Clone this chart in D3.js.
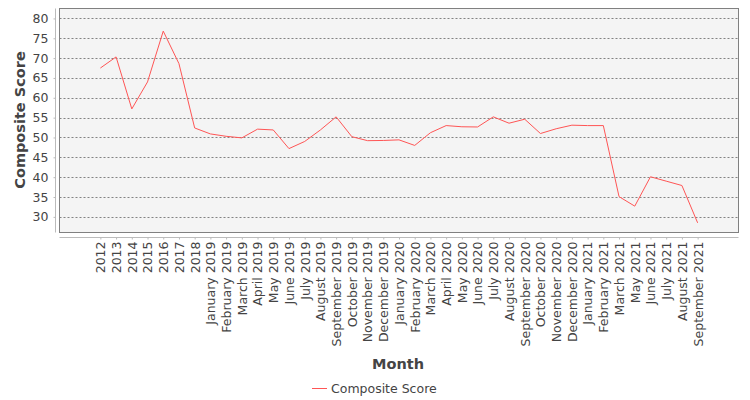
<!DOCTYPE html>
<html>
<head>
<meta charset="utf-8">
<script src="https://cdn.jsdelivr.net/npm/d3@7"></script>
<style>
  body { margin: 0; background: #fff; }
  text { font-family: "DejaVu Sans", sans-serif; }
</style>
</head>
<body>
<svg width="750" height="400"></svg>
<script>
// Category labels (April 2021 is absent in the source)
var months = ["2012", "2013", "2014", "2015", "2016", "2017", "2018",
    "January 2019", "February 2019", "March 2019", "April 2019", "May 2019", "June 2019",
    "July 2019", "August 2019", "September 2019", "October 2019", "November 2019", "December 2019",
    "January 2020", "February 2020", "March 2020", "April 2020", "May 2020", "June 2020",
    "July 2020", "August 2020", "September 2020", "October 2020", "November 2020", "December 2020",
    "January 2021", "February 2021", "March 2021", "May 2021", "June 2021",
    "July 2021", "August 2021", "September 2021"];

var scores = [67.5, 70.3, 57.2, 64.0, 76.8, 68.6, 52.4,
    50.9, 50.3, 49.9, 52.1, 51.9, 47.2,
    49.0, 51.9, 55.2, 50.2, 49.2, 49.25,
    49.4, 48.0, 51.2, 53.0, 52.7, 52.65,
    55.2, 53.6, 54.6, 51.0, 52.2, 53.1,
    53.0, 53.0, 35.1, 32.7, 40.1,
    39.0, 37.9, 28.5];

var yTicks = [30, 35, 40, 45, 50, 55, 60, 65, 70, 75, 80];

var svg = d3.select("svg");

// Plot area
var plot = {left: 59.5, top: 8.5, right: 738.5, bottom: 232.5};

var xScale = d3.scalePoint()
    .domain(months)
    .range([plot.left, plot.right])
    .padding(2.6);

var yScale = d3.scaleLinear()
    .domain([26.06, 82.5])
    .range([plot.bottom, plot.top]);

// Background
svg.append("rect")
    .attr("x", plot.left)
    .attr("y", plot.top)
    .attr("width", plot.right - plot.left)
    .attr("height", plot.bottom - plot.top)
    .attr("fill", "#f4f4f4");

// Gridlines
svg.append("g")
    .selectAll("line")
    .data(yTicks)
    .enter()
    .append("line")
    .attr("x1", plot.left)
    .attr("x2", plot.right)
    .attr("y1", function(d) { return Math.round(yScale(d)) + 0.5; })
    .attr("y2", function(d) { return Math.round(yScale(d)) + 0.5; })
    .attr("stroke", "#666")
    .attr("stroke-width", 0.8)
    .attr("stroke-dasharray", "2,2");

// Border
svg.append("rect")
    .attr("x", plot.left)
    .attr("y", plot.top)
    .attr("width", plot.right - plot.left)
    .attr("height", plot.bottom - plot.top)
    .attr("fill", "none")
    .attr("stroke", "#808080");

// Y axis (offset from plot)
var yAxisG = svg.append("g")
    .attr("transform", "translate(55.5,0)")
    .call(d3.axisLeft(yScale).tickValues(yTicks).tickSize(2).tickPadding(5));
yAxisG.select(".domain").attr("stroke", "#bbb").attr("d", "M0," + plot.top + "V" + plot.bottom);
yAxisG.selectAll(".tick line").attr("stroke", "#bbb");
yAxisG.selectAll(".tick text")
    .attr("fill", "#444")
    .style("font-size", "12.5px");

// X axis (offset from plot)
var xAxisG = svg.append("g")
    .attr("transform", "translate(0,237.5)")
    .call(d3.axisBottom(xScale).tickSize(2));
xAxisG.select(".domain").attr("stroke", "#bbb").attr("d", "M" + plot.left + ",0H" + plot.right);
xAxisG.selectAll(".tick line").attr("stroke", "#bbb");
xAxisG.selectAll(".tick text")
    .attr("fill", "#444")
    .style("font-size", "12.5px")
    .attr("text-anchor", "end")
    .attr("dy", "0.35em")
    .attr("transform", "translate(0,4) rotate(-90)")
    .attr("x", 0)
    .attr("y", 0);

// Axis titles
svg.append("text")
    .attr("transform", "translate(25,120) rotate(-90)")
    .attr("text-anchor", "middle")
    .attr("fill", "#444")
    .style("font-size", "14.5px")
    .style("font-weight", "bold")
    .text("Composite Score");

svg.append("text")
    .attr("x", 398)
    .attr("y", 369)
    .attr("text-anchor", "middle")
    .attr("fill", "#444")
    .style("font-size", "14.5px")
    .style("font-weight", "bold")
    .text("Month");

// Line
var line = d3.line()
    .x(function(d, i) { return xScale(months[i]); })
    .y(function(d) { return yScale(d); });

svg.append("path")
    .datum(scores)
    .attr("d", line)
    .attr("fill", "none")
    .attr("stroke", "#ff5555")
    .attr("stroke-width", 1);

// Legend
svg.append("line")
    .attr("x1", 312)
    .attr("x2", 327)
    .attr("y1", 388.5)
    .attr("y2", 388.5)
    .attr("stroke", "#ff5555");
svg.append("text")
    .attr("x", 331)
    .attr("y", 392.5)
    .attr("fill", "#444")
    .style("font-size", "12.5px")
    .text("Composite Score");
</script>
</body>
</html>
